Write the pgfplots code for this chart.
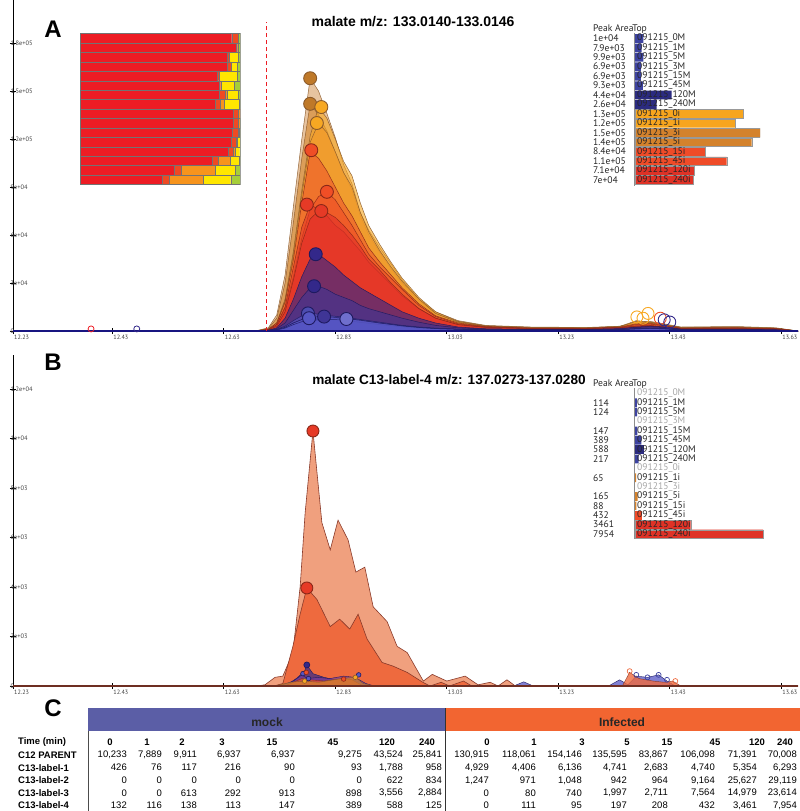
\documentclass[border=0pt]{standalone}
\usepackage{fontspec}
\setmainfont{Liberation Sans}
\newfontfamily\lgfont{PT Sans}
\usepackage{pgfplots}
\usepackage{pgfplotstable}
\pgfplotsset{compat=1.18}

\definecolor{tan3i}{HTML}{D9A066}
\definecolor{br5i}{HTML}{D4862E}
\definecolor{or0i}{HTML}{F7A823}
\definecolor{or1i}{HTML}{F39A2A}
\definecolor{rd15}{HTML}{EF5A2A}
\definecolor{rd45}{HTML}{F04E26}
\definecolor{rd120}{HTML}{E63A26}
\definecolor{rd240}{HTML}{E3302A}
\definecolor{nv120}{HTML}{33288A}
\definecolor{nv240}{HTML}{3F3596}
\definecolor{mb}{HTML}{5656C4}
\definecolor{edgeBr}{HTML}{8B5A2B}
\definecolor{edgeRd}{HTML}{8A2818}
\definecolor{edgeNv}{HTML}{1E1A60}
\definecolor{isoR}{HTML}{ED1C24}
\definecolor{isoR2}{HTML}{EF4A23}
\definecolor{isoO}{HTML}{F7941D}
\definecolor{isoY}{HTML}{FFE600}
\definecolor{isoG}{HTML}{A6CE39}
\definecolor{lgM}{HTML}{3D43A0}
\definecolor{lgMd}{HTML}{2B2B80}
\definecolor{lgO}{HTML}{F7A51E}
\definecolor{lgB}{HTML}{D4822C}
\definecolor{lgR}{HTML}{EF4B28}
\definecolor{lgRd}{HTML}{DF3226}
\definecolor{mockC}{HTML}{5B5EA6}
\definecolor{infC}{HTML}{F26531}
\definecolor{salm}{HTML}{F0A07E}
\definecolor{dor}{HTML}{EE6A3E}
\definecolor{bedge}{HTML}{8A3A2A}

% Panel A traces (values in thousands), one row per sample
\pgfplotstableread[header=false]{
x 12.252 12.69 12.71 12.725 12.74 12.755 12.77 12.785 12.80 12.815 12.83 12.845 12.86 12.875 12.89 12.91 12.93 12.95 12.98 13.01 13.05 13.10 13.18 13.28 13.34 13.37 13.395 13.42 13.45 13.55 13.62 13.66
a3i 0 0.3 2 10 35 78 120 158 150 136 121 104 92 74 63 52 42 32 20 12 6.5 3.5 2.5 2.2 3 5.5 6 4.5 2.5 2.8 2 0
a5i 0 0.3 1.5 8 30 68 108 142 135 125 112 99 88 72 60 49 39 30 19 11 6 3.2 2.3 2 2.8 5 5.5 4 2.3 2.5 1.8 0
a0i 0 0.2 1 5 20 50 88 122 140 133 120 106 97 80 66 54 43 33 21 12 6 3.2 2.2 2 2.8 6.5 5.5 4 2.2 2.4 1.8 0
a1i 0 0.2 1 5 19 48 85 118 130 124 112 99 90 74 62 50 40 31 20 11 5.5 3 2 1.9 2.6 6 5.2 3.8 2 2.2 1.6 0
a15i 0 0.2 1 5 18 45 80 112 108 100 90 80 72 62 52 43 35 27 17 9.5 5 2.8 1.8 1.7 2.4 4.5 4.8 3.5 1.8 2 1.5 0
a45i 0 0.2 0.8 4 14 34 58 76 84 87 82 74 66 57 48 40 33 26 16 9 4.5 2.6 1.7 1.6 2.2 4 4.3 3.2 1.7 1.9 1.4 0
a120i 0 0.2 0.8 4 15 40 65 79 76 72 66 62 56 50 43 36 29 22 14 8 4 2.3 1.5 1.4 2 3.2 3.5 2.6 1.5 1.7 1.2 0
a240i 0 0.2 0.7 3 12 32 55 70 75 74 71 66 60 53 45 38 30 23 14 8 4 2.2 1.5 1.4 2 3 3.3 2.5 1.4 1.6 1.1 0
m120 0 0.1 0.5 2 8 20 34 45 48 44 40 35 31 27 24 20 16 12 8 5 2.5 1.4 1 1 1.5 2.5 3 2.5 1.2 1.2 0.8 0
m240 0 0.1 0.4 1.5 5 13 21 27 28 26 23 21 19 16 14 12 10 8 5.5 3.5 2 1.2 0.9 0.9 1.3 2.2 2.6 2.2 1 1 0.7 0
m0 0 0.1 0.3 1 3 6.5 9.5 11 10.5 9.8 9.2 8.6 8 7.2 6.5 5.5 4.5 3.5 2.5 1.8 1.2 0.8 0.6 0.6 0.9 1.5 1.8 1.5 0.7 0.7 0.5 0
m1 0 0.1 0.2 0.8 2.2 5 7 8 7.8 7.4 7 6.5 6 5.4 4.8 4 3.3 2.6 1.8 1.3 0.9 0.6 0.5 0.5 0.8 1.2 1.5 1.3 0.6 0.6 0.4 0
m5 0 0.1 0.2 0.8 2.3 5 7.2 8.4 8.9 9 8.5 8 7.4 6.6 5.8 4.8 4 3.1 2.2 1.5 1 0.7 0.5 0.5 0.8 1.3 1.6 1.3 0.6 0.6 0.4 0
m45 0 0.1 0.2 0.6 1.8 4 5.8 6.6 7 7.2 7.3 7.5 7.3 6.8 6 5 4.1 3.2 2.2 1.5 1 0.7 0.5 0.5 0.8 1.3 1.6 1.3 0.6 0.6 0.4 0
}\rawA
\pgfplotstabletranspose[colnames from=0]\tabA{\rawA}

% Isotopologue fractions (percent) per sample
\pgfplotstableread{
row c12 l1 l2 l3 l4
1 94.83 3.95 0 0 1.22
2 97.62 0.94 0 0 1.44
3 91.95 1.09 0 5.69 1.28
4 91.78 2.86 0 3.86 1.50
5 85.78 1.11 0 11.29 1.82
6 87.05 0.87 0 8.43 3.65
7 86.91 3.57 1.24 7.10 1.17
8 84.33 3.13 2.72 9.41 0.41
9 95.49 3.60 0.91 0 0
10 95.50 3.56 0.79 0.06 0.09
11 95.05 3.78 0.65 0.46 0.06
12 94.51 3.30 0.66 1.39 0.14
13 92.74 2.97 1.07 3.00 0.23
14 82.89 3.70 7.16 5.91 0.34
15 59.09 4.43 21.21 12.40 2.86
16 51.11 4.59 21.26 17.24 5.81
}\isotab

\pgfplotsset{
  chrom/.style={
    scale only axis, width=785pt, height=331pt,
    xmin=12.252, xmax=13.66, ymin=0,
    axis x line*=bottom, axis y line*=left,
    axis line style={black, line width=0.6pt},
    xtick={12.252,12.43,12.63,12.83,13.03,13.23,13.43,13.63},
    xticklabels={12.23,12.43,12.63,12.83,13.03,13.23,13.43,13.63},
    tick align=center, major tick length=6pt,
    tick style={black, line width=0.6pt},
    xticklabel style={anchor=north west, font=\lgfont\fontsize{6.2}{6}\selectfont, text=black!75, inner sep=1pt},
    yticklabel style={anchor=west, font=\lgfont\fontsize{6.4}{6}\selectfont, text=black!75, inner sep=0.5pt},
    /pgf/number format/assume math mode=true,
  },
  trace/.style n args={2}{fill=#1, fill opacity=0.62, draw=#2, draw opacity=0.9, line width=0.5pt},
  pk/.style n args={2}{only marks, mark=*, mark size=6.5pt, mark options={fill=#1, draw=#2, line width=0.9pt}},
}

\newcommand\numfont{\fontsize{9.5}{11}\selectfont}
\newcommand\lgsize{\lgfont\fontsize{9.6}{9}\selectfont}
\newcommand\mrow[9]{%
  \node[anchor=east] at (127,-#1) {#2};
  \node[anchor=east] at (162,-#1) {#3};
  \node[anchor=east] at (197,-#1) {#4};
  \node[anchor=east] at (241,-#1) {#5};
  \node[anchor=east] at (295,-#1) {#6};
  \node[anchor=east] at (362,-#1) {#7};
  \node[anchor=east] at (403,-#1) {#8};
  \node[anchor=east] at (442,-#1) {#9};}
\newcommand\irow[9]{%
  \node[anchor=east] at (489,-#1) {#2};
  \node[anchor=east] at (536,-#1) {#3};
  \node[anchor=east] at (582,-#1) {#4};
  \node[anchor=east] at (627,-#1) {#5};
  \node[anchor=east] at (668,-#1) {#6};
  \node[anchor=east] at (715,-#1) {#7};
  \node[anchor=east] at (757,-#1) {#8};
  \node[anchor=east] at (797,-#1) {#9};}

\begin{document}
\begin{tikzpicture}[x=1pt,y=1pt]
\useasboundingbox (0,0) rectangle (800,-811);

%================ PANEL A =================
\begin{axis}[chrom, at={(13pt,-331pt)}, anchor=south west, ymax=206.9,
  ytick={0,30,60,90,120,150,180},
  yticklabels={0,3e+04,6e+04,9e+04,1.2e+05,1.5e+05,1.8e+05}]
\addplot[trace={tan3i}{edgeBr}] table[x=x,y=a3i]{\tabA} \closedcycle;
\addplot[trace={br5i}{edgeBr}] table[x=x,y=a5i]{\tabA} \closedcycle;
\addplot[trace={or0i}{edgeBr}] table[x=x,y=a0i]{\tabA} \closedcycle;
\addplot[trace={or1i}{edgeBr}] table[x=x,y=a1i]{\tabA} \closedcycle;
\addplot[trace={rd15}{edgeRd}] table[x=x,y=a15i]{\tabA} \closedcycle;
\addplot[trace={rd45}{edgeRd}] table[x=x,y=a45i]{\tabA} \closedcycle;
\addplot[trace={rd120}{edgeRd}] table[x=x,y=a120i]{\tabA} \closedcycle;
\addplot[trace={rd240}{edgeRd}] table[x=x,y=a240i]{\tabA} \closedcycle;
\addplot[trace={nv120}{edgeNv}] table[x=x,y=m120]{\tabA} \closedcycle;
\addplot[trace={nv240}{edgeNv}] table[x=x,y=m240]{\tabA} \closedcycle;
\addplot[trace={mb}{edgeNv}] table[x=x,y=m0]{\tabA} \closedcycle;
\addplot[trace={mb}{edgeNv}] table[x=x,y=m1]{\tabA} \closedcycle;
\addplot[trace={mb}{edgeNv}] table[x=x,y=m5]{\tabA} \closedcycle;
\addplot[trace={mb}{edgeNv}] table[x=x,y=m45]{\tabA} \closedcycle;
\draw[color=edgeNv!80!blue, line width=1.8pt] (axis cs:12.252,0) -- (axis cs:13.66,0);
\draw[color=isoR, line width=1pt, dash pattern=on 4pt off 3pt] (axis cs:12.706,0) -- (axis cs:12.706,193);
% peak markers
\addplot[pk={br5i!90!black}{edgeBr}] coordinates {(12.785,158)};
\addplot[pk={br5i!90!black}{edgeBr}] coordinates {(12.785,142)};
\addplot[pk={or0i}{edgeBr}] coordinates {(12.805,140)};
\addplot[pk={or0i}{edgeBr}] coordinates {(12.797,130)};
\addplot[pk={rd45}{edgeRd}] coordinates {(12.787,113)};
\addplot[pk={rd45}{edgeRd}] coordinates {(12.815,87)};
\addplot[pk={rd120}{edgeRd}] coordinates {(12.779,79)};
\addplot[pk={rd120}{edgeRd}] coordinates {(12.805,75)};
\addplot[pk={nv120}{edgeNv}] coordinates {(12.795,48)};
\addplot[pk={nv120}{edgeNv}] coordinates {(12.792,28)};
\addplot[pk={mb!90!black}{edgeNv}] coordinates {(12.781,11)};
\addplot[pk={mb}{edgeNv}] coordinates {(12.783,8)};
\addplot[pk={nv240}{edgeNv}] coordinates {(12.81,9)};
\addplot[pk={mb!85!white}{edgeNv}] coordinates {(12.85,7.5)};
% secondary open markers
\addplot[only marks, mark=o, mark size=6pt, mark options={draw=or0i, line width=0.9pt}] coordinates {(13.371,8.8) (13.391,11) (13.382,8)};
\addplot[only marks, mark=o, mark size=6pt, mark options={draw=rd45, line width=0.9pt}] coordinates {(13.413,8)};
\addplot[only marks, mark=o, mark size=6pt, mark options={draw=nv120, line width=0.9pt}] coordinates {(13.42,7) (13.43,5.6)};
\addplot[only marks, mark=o, mark size=3pt, mark options={draw=isoR, line width=0.8pt}] coordinates {(12.392,1.3)};
\addplot[only marks, mark=o, mark size=3pt, mark options={draw=nv120, line width=0.8pt}] coordinates {(12.474,1.3)};
\end{axis}

% inset: isotopologue fractions
\begin{axis}[at={(80pt,-184.5pt)}, anchor=south west, scale only axis,
  width=160pt, height=151pt, xmin=0, xmax=100, ymin=0.5, ymax=16.5,
  y dir=reverse, xbar stacked, bar width=1, xtick=\empty, ytick=\empty,
  axis line style={draw=black!35, line width=0.4pt}]
\addplot[fill=isoR, draw=black!55, line width=0.3pt] table[x=c12,y=row]{\isotab};
\addplot[fill=isoR2, draw=black!55, line width=0.3pt] table[x=l1,y=row]{\isotab};
\addplot[fill=isoO, draw=black!55, line width=0.3pt] table[x=l2,y=row]{\isotab};
\addplot[fill=isoY, draw=black!55, line width=0.3pt] table[x=l3,y=row]{\isotab};
\addplot[fill=isoG, draw=black!55, line width=0.3pt] table[x=l4,y=row]{\isotab};
\end{axis}

% legend A bars
\begin{axis}[at={(635pt,-184.7pt)}, anchor=south west, scale only axis,
  width=125pt, height=151pt, xmin=0, xmax=150, ymin=0.5, ymax=16.5,
  y dir=reverse, hide axis]
\addplot[xbar, bar width=0.92, fill=lgM, draw=none] coordinates {(10,1) (7.9,2) (9.9,3) (6.9,4) (6.9,5) (9.3,6)};
\addplot[xbar, bar width=0.92, fill=lgMd, draw=none] coordinates {(44,7) (26,8)};
\addplot[xbar, bar width=0.92, fill=lgO, draw=black!40, line width=0.3pt] coordinates {(130,9) (120,10)};
\addplot[xbar, bar width=0.92, fill=lgB, draw=black!40, line width=0.3pt] coordinates {(150,11) (140,12)};
\addplot[xbar, bar width=0.92, fill=lgR, draw=black!40, line width=0.3pt] coordinates {(84,13) (110,14)};
\addplot[xbar, bar width=0.92, fill=lgRd, draw=black!40, line width=0.3pt] coordinates {(71,15) (70,16)};
\end{axis}
\draw[black!45, line width=0.5pt] (634,-33) -- (634,-186);
\node[anchor=west, inner sep=0pt, font=\lgsize, text=black!85] at (593,-29) {Peak AreaTop};
\foreach \v/\l [count=\i] in {1e+04/0M, 7.9e+03/1M, 9.9e+03/5M, 6.9e+03/3M, 6.9e+03/15M, 9.3e+03/45M, 4.4e+04/120M, 2.6e+04/240M, 1.3e+05/0i, 1.2e+05/1i, 1.5e+05/3i, 1.4e+05/5i, 8.4e+04/15i, 1.1e+05/45i, 7.1e+04/120i, 7e+04/240i}{
  \pgfmathsetmacro\yy{-(38.3+9.44*(\i-1))}
  \node[anchor=west, inner sep=0pt, font=\lgsize, text=black!85] at (593,\yy) {\v};
  \node[anchor=west, inner sep=0pt, font=\lgsize, text=black!85] at (637,\yy) {091215\_\l};
}
\node[font=\bfseries\fontsize{14}{14}\selectfont] at (413,-22) {malate m/z: 133.0140-133.0146};
\node[font=\bfseries\fontsize{24}{24}\selectfont] at (53,-29) {A};

%================ PANEL B =================
\begin{axis}[chrom, at={(13pt,-686pt)}, anchor=south west, ymax=13.37,
  ytick={0,2,4,6,8,10,12},
  yticklabels={0,2e+03,4e+03,6e+03,8e+03,1e+04,1.2e+04}]
\addplot[fill=salm, draw=bedge, line width=0.6pt] coordinates {
(12.252,0) (12.69,0) (12.704,0.05) (12.722,0.35) (12.736,0.4) (12.754,1.35) (12.767,4.0) (12.776,7.0) (12.790,10.3) (12.806,6.6) (12.821,5.5) (12.835,6.7) (12.853,5.9) (12.867,4.6) (12.883,4.8) (12.898,3.2) (12.923,2.6) (12.941,1.6) (12.959,1.35) (12.988,0.2) (13.004,0.47) (13.030,0.2) (13.063,0.4) (13.086,0.05) (13.108,0.15) (13.122,0) (13.138,0.25) (13.153,0) (13.66,0)} \closedcycle;
\addplot[fill=dor, draw=bedge, line width=0.6pt] coordinates {
(12.252,0) (12.72,0) (12.736,0.1) (12.754,1.6) (12.767,2.9) (12.779,3.96) (12.797,3.5) (12.821,2.4) (12.838,2.7) (12.856,2.3) (12.871,2.9) (12.887,1.9) (12.914,0.95) (12.934,0.8) (12.959,0.55) (12.987,0.15) (13.0,0) (13.02,0.15) (13.035,0) (13.06,0.2) (13.075,0) (13.66,0)} \closedcycle;
\addplot[fill=nv120, fill opacity=0.7, draw=edgeNv, line width=0.4pt] coordinates {
(12.74,0) (12.76,0.3) (12.775,0.6) (12.779,0.85) (12.79,0.5) (12.81,0.35) (12.83,0.25) (12.85,0.3) (12.87,0.2) (12.89,0)} \closedcycle;
\addplot[fill=mb!70!purple, fill opacity=0.7, draw=edgeNv, line width=0.4pt] coordinates {
(12.73,0) (12.755,0.2) (12.77,0.45) (12.78,0.3) (12.80,0.35) (12.82,0.3) (12.845,0.4) (12.865,0.35) (12.885,0.1) (12.90,0)} \closedcycle;
\addplot[fill=rd45, fill opacity=0.7, draw=edgeRd, line width=0.4pt] coordinates {
(12.74,0) (12.77,0.3) (12.785,0.25) (12.81,0.2) (12.845,0.3) (12.86,0.25) (12.88,0)} \closedcycle;
\addplot[fill=br5i, fill opacity=0.7, draw=edgeBr, line width=0.4pt] coordinates {
(12.72,0) (12.75,0.15) (12.775,0.2) (12.80,0.15) (12.84,0.3) (12.866,0.35) (12.88,0.1) (12.90,0)} \closedcycle;
\addplot[fill=mb, fill opacity=0.75, draw=edgeNv, line width=0.4pt] coordinates {
(13.32,0) (13.34,0.25) (13.355,0.05) (13.37,0.4) (13.39,0.35) (13.41,0.45) (13.425,0.2) (13.44,0)} \closedcycle;
\addplot[fill=dor, fill opacity=0.8, draw=bedge, line width=0.4pt] coordinates {
(13.345,0) (13.358,0.55) (13.375,0.3) (13.40,0.2) (13.42,0.15) (13.435,0.2) (13.45,0)} \closedcycle;
\addplot[fill=mb, fill opacity=0.75, draw=edgeNv, line width=0.4pt] coordinates {
(13.15,0) (13.168,0.17) (13.185,0)} \closedcycle;
\draw[color=bedge!80!black, line width=1.2pt] (axis cs:12.252,0) -- (axis cs:13.66,0);
\addplot[only marks, mark=*, mark size=6pt, mark options={fill=rd120, draw=edgeRd, line width=0.9pt}] coordinates {(12.790,10.3) (12.779,3.96)};
\addplot[only marks, mark=*, mark size=3pt, mark options={fill=nv120, draw=edgeNv, line width=0.7pt}] coordinates {(12.779,0.85)};
\addplot[only marks, mark=*, mark size=2.3pt, mark options={fill=mb, draw=edgeNv, line width=0.6pt}] coordinates {(12.772,0.5) (12.782,0.3) (12.872,0.45)};
\addplot[only marks, mark=*, mark size=2.3pt, mark options={fill=rd45, draw=edgeRd, line width=0.6pt}] coordinates {(12.778,0.55) (12.845,0.28)};
\addplot[only marks, mark=*, mark size=2.3pt, mark options={fill=or0i, draw=edgeBr, line width=0.6pt}] coordinates {(12.775,0.2) (12.866,0.35)};
\addplot[only marks, mark=o, mark size=2.5pt, mark options={draw=dor, line width=0.7pt}] coordinates {(13.358,0.6) (13.44,0.2)};
\addplot[only marks, mark=o, mark size=2.5pt, mark options={draw=lgM, line width=0.7pt}] coordinates {(13.37,0.45) (13.39,0.35) (13.41,0.45) (13.425,0.25)};
\end{axis}

% legend B bars
\begin{axis}[at={(635pt,-538.7pt)}, anchor=south west, scale only axis,
  width=128.8pt, height=150pt, xmin=0, xmax=8, ymin=0.5, ymax=16.5,
  y dir=reverse, hide axis]
\addplot[xbar, bar width=0.92, fill=lgM, draw=none] coordinates {(0.114,2) (0.124,3) (0.147,5) (0.389,6) (0.217,8)};
\addplot[xbar, bar width=0.92, fill=lgMd, draw=none] coordinates {(0.588,7)};
\addplot[xbar, bar width=0.92, fill=lgB, draw=none] coordinates {(0.065,10) (0.165,12) (0.088,13)};
\addplot[xbar, bar width=0.92, fill=lgR, draw=none] coordinates {(0.432,14)};
\addplot[xbar, bar width=0.92, fill=lgRd, draw=black!40, line width=0.3pt] coordinates {(3.461,15) (7.954,16)};
\end{axis}
\draw[black!45, line width=0.5pt] (634,-388) -- (634,-539);
\node[anchor=west, inner sep=0pt, font=\lgsize, text=black!85] at (593,-384) {Peak AreaTop};
\foreach \v/\l/\c [count=\i] in {/0M/black!35, 114/1M/black!85, 124/5M/black!85, /3M/black!35, 147/15M/black!85, 389/45M/black!85, 588/120M/black!85, 217/240M/black!85, /0i/black!35, 65/1i/black!85, /3i/black!35, 165/5i/black!85, 88/15i/black!85, 432/45i/black!85, 3461/120i/black!85, 7954/240i/black!85}{
  \pgfmathsetmacro\yy{-(393.3+9.38*(\i-1))}
  \node[anchor=west, inner sep=0pt, font=\lgsize, text=black!85] at (593,\yy) {\v};
  \node[anchor=west, inner sep=0pt, font=\lgsize, text=\c] at (637,\yy) {091215\_\l};
}
\node[font=\bfseries\fontsize{13.6}{14}\selectfont] at (449,-380) {malate C13-label-4 m/z: 137.0273-137.0280};
\node[font=\bfseries\fontsize{24}{24}\selectfont] at (53,-362) {B};

%================ PANEL C =================
\node[font=\bfseries\fontsize{24}{24}\selectfont] at (53,-708) {C};
\fill[mockC] (88,-708) rectangle (445,-731);
\fill[infC] (445,-708) rectangle (800,-731);
\node[font=\bfseries\fontsize{12}{12}\selectfont, text=black!85] at (267,-722) {mock};
\node[font=\bfseries\fontsize{12}{12}\selectfont, text=black!85] at (622,-722) {Infected};
\draw[black!70, line width=0.6pt] (88,-731) -- (88,-811);
\draw[black!80, line width=0.8pt] (445,-708) -- (445,-811);
\begin{scope}[every node/.style={inner sep=0pt, font=\numfont}]
\node[anchor=west, font=\numfont\bfseries] at (18,-742) {Time (min)};
\node[anchor=west, font=\numfont\bfseries] at (18,-755) {C12 PARENT};
\node[anchor=west, font=\numfont\bfseries] at (18,-767.7) {C13-label-1};
\node[anchor=west, font=\numfont\bfseries] at (18,-780.3) {C13-label-2};
\node[anchor=west, font=\numfont\bfseries] at (18,-793) {C13-label-3};
\node[anchor=west, font=\numfont\bfseries] at (18,-805.5) {C13-label-4};
\foreach \xx/\tt in {110/0,147/1,182/2,222/3,272/15,333/45,387/120,427/240,487/0,534/1,582/3,627/5,667/15,715/45,757/120,785/240}{
  \node[font=\numfont\bfseries] at (\xx,-742) {\tt};
}
\mrow{755}{10,233}{7,889}{9,911}{6,937}{6,937}{9,275}{43,524}{25,841}
\mrow{767.7}{426}{76}{117}{216}{90}{93}{1,788}{958}
\mrow{780.3}{0}{0}{0}{0}{0}{0}{622}{834}
\mrow{793}{0}{0}{613}{292}{913}{898}{3,556}{2,884}
\mrow{805.5}{132}{116}{138}{113}{147}{389}{588}{125}
\irow{755}{130,915}{118,061}{154,146}{135,595}{83,867}{106,098}{71,391}{70,008}
\irow{767.7}{4,929}{4,406}{6,136}{4,741}{2,683}{4,740}{5,354}{6,293}
\irow{780.3}{1,247}{971}{1,048}{942}{964}{9,164}{25,627}{29,119}
\irow{793}{0}{80}{740}{1,997}{2,711}{7,564}{14,979}{23,614}
\irow{805.5}{0}{111}{95}{197}{208}{432}{3,461}{7,954}
\end{scope}
\end{tikzpicture}
\end{document}
